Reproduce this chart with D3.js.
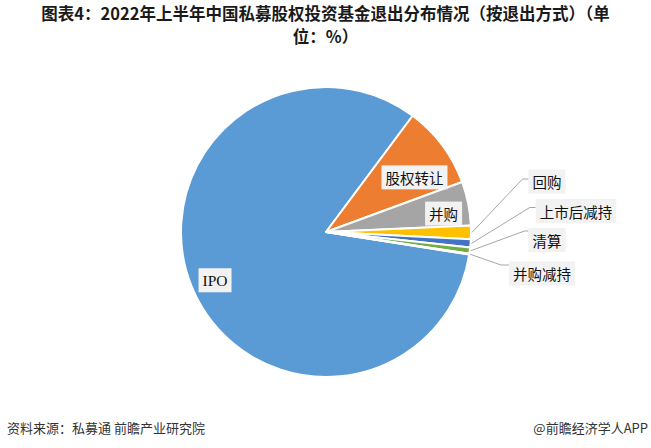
<!DOCTYPE html>
<html>
<head>
<meta charset="utf-8">
<script src="https://cdn.jsdelivr.net/npm/d3@7"></script>
<style>
  html, body { margin: 0; padding: 0; background: #fff; }
  svg { display: block; }
</style>
</head>
<body>
<svg id="chart" width="651" height="448"></svg>
<script>
// ---- data ----
const categories = ["IPO", "股权转让", "并购", "回购", "上市后减持", "清算", "并购减持"];
const values = [82.7, 9.2, 4.9, 1.5, 0.9, 0.7, 0.1];
const colors = ["#5B9BD5", "#ED7D31", "#A5A5A5", "#FFC000", "#4472C4", "#70AD47", "#255E91"];
const titleLines = ["图表4：2022年上半年中国私募股权投资基金退出分布情况（按退出方式）（单", "位：%）"];
const sourceText = "资料来源：私募通 前瞻产业研究院";
const creditText = "@前瞻经济学人APP";

// ---- layout ----
const W = 651, H = 448;
const cx = 326, cy = 232, R = 145;
const firstSliceEndDeg = 36.7; // where the IPO slice ends (clockwise from 12 o'clock)
const labelPlace = [
  { type: "in", r: 121, a: 246.5, font: "serif" },
  { type: "in", r: 104, a: 58.3 },
  { type: "in", r: 119, a: 81.1 },
  { type: "out", dx: 221, dy: -50.5, ly: -2.5, elbow: 6 },
  { type: "out", dx: 250, dy: -21, ly: -3.5, elbow: 6 },
  { type: "out", dx: 221, dy: 8, ly: -9, elbow: 4 },
  { type: "out", dx: 216, dy: 41.5, ly: -8.5, elbow: 8 }
];

const svg = d3.select("#chart");
const toRad = d => d * Math.PI / 180;

// title
svg.append("g").selectAll("text").data(titleLines).join("text")
  .attr("x", W / 2).attr("y", (d, i) => 20 + i * 23)
  .attr("text-anchor", "middle")
  .attr("font-family", "'Noto Sans CJK SC', sans-serif")
  .attr("font-weight", "bold").attr("font-size", 16.5)
  .attr("fill", "#1a1a1a")
  .text(d => d);

// pie
const total = d3.sum(values);
const start = toRad(firstSliceEndDeg) - (values[0] / total) * 2 * Math.PI;
const pie = d3.pie().sort(null).value(d => d.v)
  .startAngle(start).endAngle(start + 2 * Math.PI);
const data = categories.map((c, i) => ({ c, v: values[i], i }));
const arcs = pie(data);
const arc = d3.arc().innerRadius(0).outerRadius(R);

const g = svg.append("g").attr("transform", `translate(${cx},${cy})`);
g.selectAll("path").data(arcs).join("path")
  .attr("d", arc)
  .attr("fill", d => colors[d.data.i])
  .attr("stroke", "#fff").attr("stroke-width", 2).attr("stroke-linejoin", "round");

// labels
const fontSize = 14.5;
const lab = g.append("g");
arcs.forEach((d, i) => {
  const p = labelPlace[i];
  let x, y;
  if (p.type === "in") {
    x = p.r * Math.sin(toRad(p.a));
    y = -p.r * Math.cos(toRad(p.a));
  } else {
    x = p.dx; y = p.dy;
  }
  const t = lab.append("text")
    .attr("x", x).attr("y", y)
    .attr("text-anchor", "middle").attr("dominant-baseline", "central")
    .attr("font-family", p.font === "serif" ? "'Liberation Serif', serif" : "'Noto Sans CJK SC', sans-serif")
    .attr("font-size", p.font === "serif" ? 15.5 : fontSize)
    .attr("fill", "#111")
    .text(d.data.c);
  const bb = t.node().getBBox();
  const padX = 4, bh = 24;
  lab.insert("rect", () => t.node())
    .attr("x", x - bb.width / 2 - padX).attr("y", y - bh / 2)
    .attr("width", bb.width + 2 * padX).attr("height", bh)
    .attr("fill", "#f2f2f2");
  if (p.type === "out") {
    const mid = (d.startAngle + d.endAngle) / 2;
    const sx = (R + 1) * Math.sin(mid), sy = -(R + 1) * Math.cos(mid);
    const bx = x - bb.width / 2 - padX;
    const byy = y + p.ly;
    lab.insert("path", "rect")
      .attr("d", `M${sx},${sy}L${bx - p.elbow},${byy}L${bx},${byy}`)
      .attr("fill", "none").attr("stroke", "#a6a6a6").attr("stroke-width", 1);
  }
});

// footer
svg.append("text").attr("x", 7).attr("y", 427)
  .attr("dominant-baseline", "central")
  .attr("font-family", "'Noto Sans CJK SC', sans-serif").attr("font-size", 13)
  .attr("fill", "#333").text(sourceText);
svg.append("text").attr("x", 648).attr("y", 427)
  .attr("dominant-baseline", "central").attr("text-anchor", "end")
  .attr("font-family", "'Noto Sans CJK SC', sans-serif").attr("font-size", 13)
  .attr("fill", "#333").text(creditText);
</script>
</body>
</html>
